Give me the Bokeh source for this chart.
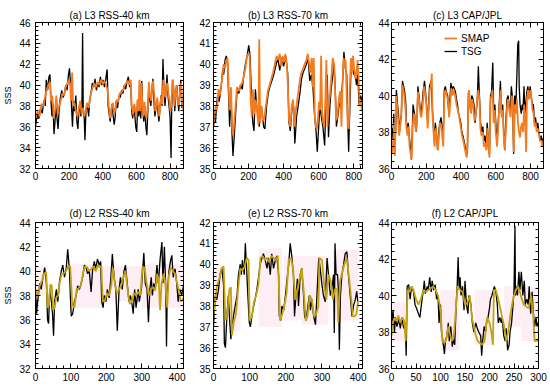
from bokeh.plotting import figure
from bokeh.models import Range1d, LinearAxis, SingleIntervalTicker, Legend, LegendItem
from bokeh.layouts import row, column
from bokeh.embed import file_html
from bokeh.resources import INLINE

FONT = "Liberation Sans"
ORANGE = "#f47b20"
OLIVE = "#c4a20e"
PINK = "#fdedf4"

# ---------------- (a) L3 RSS-40 km ----------------
a_tsg_x = [0,10,20,30,40,50,58,64,72,80,86,92,98,104,110,116,122,128,134,140,148,156,164,172,180,188,196,202,208,214,220,226,232,240,246,252,258,264,270,276,280,284,290,294,300,308,316,322,330,338,346,354,362,370,378,386,394,402,410,418,426,432,438,444,450,456,462,468,474,480,488,496,504,512,520,528,536,544,552,560,566,572,578,584,590,596,602,608,614,620,626,632,638,644,650,656,662,668,674,680,686,692,698,704,710,716,722,728,734,740,746,752,758,764,770,776,782,788,794,800,806,810,816,822,828,834,840,846,852,858,864,870,876,880]
a_tsg_y = [36.0,37.2,36.8,37.8,37.3,38.5,38.0,40.5,39.5,40.8,41.0,38.5,37.0,38.2,35.3,36.5,38.0,36.8,35.8,37.5,38.8,39.5,38.8,39.2,40.0,39.5,41.0,41.6,40.2,38.0,36.0,38.5,37.5,39.0,36.5,35.8,37.5,38.2,37.0,38.0,45.0,37.5,36.8,34.7,37.5,38.2,37.0,38.5,39.2,40.2,39.8,40.6,39.5,40.2,39.8,40.8,40.0,40.5,39.8,40.6,41.5,38.0,37.2,36.5,37.5,38.2,37.0,36.2,37.0,38.5,37.8,39.0,38.8,39.5,39.2,40.0,39.6,40.3,40.8,39.8,40.2,37.5,36.8,38.0,37.2,36.0,35.5,38.5,37.0,38.2,36.8,40.4,37.5,36.5,38.0,36.0,35.2,37.5,40.0,38.5,38.0,39.5,40.6,38.5,37.0,37.8,38.6,37.5,36.5,37.8,39.0,38.0,42.5,39.5,38.0,39.5,41.0,39.0,38.0,37.0,33.0,38.0,40.5,39.5,37.5,39.0,40.0,38.5,37.5,39.5,40.5,37.8,38.5,37.5]
a_smap_x = [0,12,24,36,48,58,66,76,86,92,100,108,116,124,132,140,150,160,170,180,190,200,206,212,218,224,232,240,250,258,266,274,282,290,298,306,316,324,332,340,350,360,370,380,390,400,410,420,428,436,444,452,460,468,476,484,492,500,510,520,530,540,550,558,566,572,580,588,594,600,606,612,618,624,630,636,642,648,654,660,668,674,680,688,694,700,706,712,718,724,730,736,742,748,754,760,766,772,778,784,790,796,802,808,814,820,826,832,838,844,852,860,866,872,880]
a_smap_y = [36.8,37.5,37.0,38.2,38.0,39.0,39.5,40.0,40.3,38.5,39.0,36.8,37.5,39.0,37.2,38.0,38.5,39.2,39.0,39.8,40.2,40.5,40.0,38.5,41.2,38.0,38.3,37.5,37.0,37.8,38.5,37.2,37.8,37.0,37.5,38.3,37.8,38.8,39.3,39.8,40.2,39.8,40.3,40.0,40.5,40.1,40.4,40.0,39.5,38.0,36.8,37.8,38.3,37.2,37.8,38.6,38.4,39.2,39.3,39.5,40.0,40.2,40.4,40.0,40.5,38.0,37.2,38.2,37.5,37.0,38.6,37.5,40.5,37.5,40.2,38.0,37.0,38.4,37.2,36.8,38.0,40.3,39.0,38.5,40.0,40.4,39.0,37.5,38.2,38.8,37.8,37.0,38.0,39.0,38.2,40.5,39.3,38.8,39.8,40.2,39.2,38.5,37.5,38.2,40.5,40.0,38.0,39.2,40.0,38.6,38.0,39.5,40.2,38.0,37.8]

# ---------------- (b) L3 RSS-70 km ----------------
b_tsg_x = [0,6,11,17,24,32,39,47,53,58,66,73,81,86,92,100,105,111,118,126,135,145,154,164,173,182,192,201,209,216,224,231,239,246,254,261,269,276,286,293,303,312,321,333,344,355,367,378,389,400,412,423,431,438,447,457,464,474,483,493,502,511,521,530,540,549,558,568,577,585,592,600,607,615,624,634,641,649,656,664,671,681,688,696,701,709,716,724,731,739,744,752,760,765,771,778,786,793,801,808,816,823,831,838,846,850]
b_tsg_y = [37.0,37.8,37.2,38.0,38.5,38.2,38.6,39.2,39.8,39.5,40.2,40.4,40.0,38.5,37.0,38.5,36.8,35.6,36.5,37.6,38.8,38.6,39.0,38.8,39.5,40.0,40.4,40.9,40.4,38.5,37.2,36.8,38.8,38.0,37.5,37.0,38.0,37.8,37.0,36.9,38.0,38.6,38.9,39.2,39.5,39.9,40.3,39.7,40.3,39.9,40.4,39.6,37.2,36.8,37.8,38.0,36.2,37.5,38.0,38.6,39.3,39.6,39.8,40.0,40.3,39.2,39.5,38.8,37.5,36.8,35.8,37.0,38.0,37.5,37.0,36.1,38.0,39.5,36.5,38.0,38.8,39.5,40.0,38.5,37.0,37.5,38.0,38.2,38.5,39.5,40.6,39.8,39.5,37.5,35.8,38.0,40.2,39.8,39.5,39.5,39.0,39.5,38.0,38.5,38.2,38.5]
b_smap_x = [0,6,12,20,28,36,44,52,58,66,74,80,86,92,100,106,112,118,126,134,144,154,164,172,182,190,198,206,212,218,224,232,240,248,256,261,266,274,282,290,300,310,320,330,340,350,360,370,378,386,394,402,410,418,424,430,438,446,454,462,470,478,486,494,502,512,520,530,538,546,552,560,566,572,578,584,590,596,602,608,614,620,626,632,638,644,650,656,664,672,680,688,694,700,706,712,718,724,730,736,742,748,754,760,766,772,778,784,790,796,802,810,816,822,828,834,840,846,850]
b_smap_y = [37.0,37.5,38.0,37.8,38.8,38.5,39.0,39.5,40.0,39.8,40.2,40.3,39.0,37.8,38.9,37.0,36.6,37.2,38.0,38.9,38.7,39.0,39.1,39.4,39.8,40.3,40.5,40.5,38.3,37.5,38.8,37.6,38.3,37.8,37.1,41.2,37.2,38.0,37.3,37.4,38.1,38.7,39.0,39.3,39.6,40.0,40.4,40.2,40.5,39.9,40.4,40.1,40.5,40.0,39.0,37.4,37.0,38.0,38.3,37.0,37.8,38.3,38.8,39.3,39.6,39.8,40.0,40.2,40.5,40.0,39.6,40.3,38.9,40.3,37.5,37.0,36.9,37.4,38.2,37.8,40.4,37.6,37.2,37.0,38.3,40.2,37.0,38.0,38.5,39.3,40.3,40.0,38.6,37.3,37.5,38.0,38.5,38.7,37.0,39.0,40.3,39.8,40.2,38.5,37.0,36.9,39.0,40.3,39.6,40.4,39.8,39.3,39.6,40.2,39.3,38.0,38.3,37.8,38.0]

# ---------------- (c) L3 CAP/JPL ----------------
c_tsg_x = [0,4,8,13,19,24,28,34,40,46,52,57,63,70,76,82,86,91,96,105,110,114,118,124,129,133,138,143,148,152,158,164,171,176,182,190,196,202,209,214,219,228,234,240,247,252,258,266,272,278,285,292,297,304,310,316,323,330,336,342,348,355,361,368,374,380,386,392,399,405,411,418,424,430,437,443,450,456,462,469,475,481,488,494,500,506,513,519,526,532,538,545,551,557,564,570,576,583,589,595,602,608,614,620,627,633,640,646,652,658,665,671,677,684,690,697,703,709,716,722,727,732,735,740,747,752,757,763,768,774,779,785,791,798,804,810,817,823,829,836,842,848,855,861,867,874]
c_tsg_y = [37.8,38.2,37.6,39.0,37.5,38.0,40.3,39.6,39.0,38.0,38.6,39.0,40.8,40.5,40.2,39.6,38.5,38.0,38.5,37.5,37.0,36.5,37.5,39.5,39.2,39.0,38.3,38.0,39.0,40.5,40.0,39.4,39.0,39.5,40.2,40.8,40.2,39.5,38.5,39.5,40.5,40.8,39.5,38.5,37.5,38.5,38.0,37.0,38.0,38.5,38.8,38.2,37.5,40.3,40.5,40.2,40.0,39.0,39.8,40.7,40.3,40.5,40.4,40.2,39.8,39.5,39.0,38.8,38.5,38.0,37.8,37.5,37.2,37.0,36.8,40.2,39.5,39.2,40.0,39.8,39.5,38.5,39.2,39.8,41.6,40.0,38.5,38.0,38.3,37.5,37.8,37.2,38.5,37.5,36.8,40.0,40.2,41.8,38.8,39.5,38.2,37.5,38.5,39.5,40.8,39.0,39.5,38.0,37.0,38.5,39.8,40.0,39.5,39.2,40.5,39.8,36.8,40.0,39.5,41.2,42.8,43.0,40.5,39.5,39.0,39.5,39.2,40.5,39.0,39.6,40.2,40.5,39.8,40.5,40.0,39.5,39.5,38.5,38.8,38.2,38.5,38.0,37.5,37.8,37.6,37.3]
c_smap_x = [0,5,10,15,20,26,32,38,44,50,56,62,68,74,80,86,92,98,104,110,116,122,128,134,140,146,152,158,166,172,180,188,196,202,208,214,220,226,232,236,242,248,254,260,266,272,278,286,292,298,304,310,318,326,332,338,344,350,358,366,374,382,390,398,406,414,420,428,434,440,446,452,458,464,470,478,486,492,500,506,512,518,526,532,540,546,552,558,564,570,576,582,588,594,600,608,614,620,628,634,640,646,652,658,666,672,678,686,692,698,704,710,716,722,728,734,740,746,752,758,764,770,775,780,786,792,800,806,812,818,824,830,836,842,850,856,862,868,874]
c_smap_y = [37.5,36.8,37.2,38.5,36.7,40.0,39.5,38.7,37.8,38.3,38.8,40.6,40.3,40.0,39.3,38.2,37.8,38.3,37.2,36.8,36.5,38.3,39.0,38.8,38.0,38.6,40.2,39.8,39.0,38.8,39.5,40.5,40.0,39.3,38.2,39.2,40.3,40.5,41.2,39.0,38.0,37.2,38.2,37.8,37.0,37.6,38.5,38.4,37.8,37.2,40.0,40.3,40.0,39.7,38.8,39.6,40.4,40.0,40.3,40.0,39.5,39.2,38.8,38.3,37.8,37.5,37.2,36.8,36.6,38.5,40.3,39.6,39.0,39.8,39.5,38.6,39.0,39.6,40.3,39.8,38.2,37.8,38.0,37.2,37.4,37.0,38.2,37.2,36.6,39.8,40.0,40.3,38.5,39.2,38.0,37.2,38.2,39.3,40.3,38.8,39.2,37.8,37.0,38.0,39.5,39.8,39.2,38.8,40.0,39.5,36.9,39.5,39.0,39.8,38.5,38.0,37.7,38.3,38.5,38.0,39.5,38.5,36.9,39.8,40.3,39.8,40.3,39.8,39.2,39.0,38.3,38.5,38.0,38.2,37.8,37.5,37.6,37.2,37.5]

# ---------------- (d) L2 RSS-40 km ----------------
d_tsg_x = [0,3,6,8,12,16,21,26,31,34,37,40,45,48,51,54,59,63,68,73,77,82,87,91,96,99,101,105,110,115,119,124,129,133,138,143,147,152,157,161,166,170,175,180,184,187,191,194,199,203,208,213,217,222,227,231,236,240,245,250,254,259,264,268,273,276,280,284,290,293,299,303,306,310,315,319,323,327,330,334,338,343,347,352,357,360,364,368,370,372,377,381,385,389,394,399,403,408,413,418]
d_tsg_y = [38.5,36.5,37.5,38.0,39.0,38.5,39.5,40.3,39.0,36.0,35.7,38.5,37.5,36.5,34.7,37.5,38.5,37.5,39.2,40.0,40.5,39.5,40.3,41.8,40.0,37.5,36.3,36.5,37.5,38.0,38.8,38.5,39.0,39.5,40.5,40.3,39.8,40.0,38.3,40.0,40.8,40.2,41.0,40.5,40.8,37.5,37.0,38.0,37.5,38.5,37.8,39.5,41.4,39.5,38.5,35.1,38.5,39.5,38.5,40.0,40.5,39.0,37.5,38.0,37.2,36.5,38.5,37.0,38.5,37.5,38.5,40.2,41.5,39.0,38.5,35.8,38.5,39.5,38.0,39.0,38.5,40.5,39.0,41.0,42.4,39.0,42.0,38.5,33.8,38.0,40.0,40.8,41.3,39.5,40.2,39.0,37.5,38.5,38.0,38.8]
d_smap_x = [0,6,12,18,24,30,34,38,42,46,50,54,58,64,68,74,80,86,92,98,104,110,116,122,128,134,140,146,152,158,164,170,176,182,186,190,196,202,208,214,218,224,230,236,242,248,254,260,266,272,278,284,290,296,302,308,314,320,326,332,338,344,348,352,356,362,366,372,376,382,388,394,400,406,410,414,418]
d_smap_y = [38.5,38.0,38.8,39.2,39.8,39.9,37.0,37.2,38.9,38.8,36.8,37.0,37.8,38.0,39.0,39.8,39.8,40.0,40.4,40.4,37.2,37.0,38.5,38.6,38.8,39.8,40.4,40.3,40.0,40.2,40.4,40.0,40.5,40.3,40.4,37.5,37.6,38.2,38.0,38.8,40.3,39.0,38.2,38.5,38.8,39.5,40.0,38.5,37.3,37.5,38.2,38.0,38.3,38.0,40.3,40.3,39.0,38.0,38.5,38.7,38.4,39.8,39.2,36.8,39.0,39.8,39.2,37.0,39.5,40.3,40.0,39.8,39.0,38.3,37.5,37.6,37.8]
d_pink_left = [0, 100, 190, 300]
d_pink_right = [35, 190, 300, 418]
d_pink_bottom = [38.0, 37.0, 37.5, 37.0]
d_pink_top = [40.4, 40.6, 40.4, 40.6]

# ---------------- (e) L2 RSS-70 km ----------------
e_tsg_x = [0,5,9,14,18,23,28,30,33,37,41,44,48,51,55,60,65,69,74,77,80,85,88,91,95,99,102,106,111,115,120,124,129,134,138,143,148,152,157,161,166,171,175,180,182,186,189,194,199,203,208,212,217,221,224,228,232,235,240,244,249,252,256,261,265,268,272,277,282,286,291,295,300,304,309,314,318,323,327,332,334,336,339,343,346,348,351,355,360,364,369,373,378,383,387,392,396,399]
e_tsg_y = [37.0,38.5,38.3,38.8,39.5,39.8,39.0,36.2,36.0,37.5,38.5,37.5,36.4,37.0,37.5,38.0,38.5,39.5,40.0,39.5,40.2,39.5,41.0,40.0,38.5,37.2,37.0,37.5,38.0,38.3,38.8,39.3,40.0,40.3,40.5,40.2,39.8,40.3,39.5,40.5,39.8,40.2,40.4,39.5,37.5,37.3,38.0,37.8,38.5,39.2,40.0,41.0,40.3,39.5,37.5,38.5,39.3,38.0,39.5,39.8,38.5,37.5,37.3,38.0,38.5,37.8,38.3,37.5,37.1,38.5,40.3,39.8,39.0,38.5,38.2,40.3,39.5,38.5,38.8,39.5,36.7,41.0,39.5,39.5,38.5,35.9,38.5,39.5,40.0,40.5,40.6,39.5,38.5,37.5,38.0,38.3,38.7,38.2]
e_smap_x = [0,5,10,16,22,28,33,38,44,48,51,56,62,68,74,80,86,92,97,100,106,112,118,124,130,136,142,148,154,160,166,172,178,184,190,196,202,208,214,220,226,232,238,244,250,255,260,266,272,278,284,290,293,300,306,312,318,324,330,336,342,345,350,356,362,368,374,380,385,390,395,400]
e_smap_y = [37.5,38.3,39.0,39.3,39.8,39.9,37.3,37.6,38.8,38.9,36.6,37.2,37.6,38.8,39.8,39.7,39.9,40.3,40.2,37.3,37.5,38.2,38.5,39.0,40.3,40.4,40.2,40.3,40.1,40.4,40.3,40.2,40.4,37.3,37.6,38.0,38.6,40.2,40.3,39.8,38.3,38.8,39.3,39.8,38.6,37.3,37.5,38.5,38.3,37.5,37.6,38.0,40.3,40.2,39.0,38.3,39.5,39.2,38.3,38.8,38.8,37.2,39.2,39.6,40.0,40.3,39.5,38.5,37.5,37.5,37.6,38.2]
e_pink_left = [0, 45, 125, 195, 245, 330]
e_pink_right = [30, 75, 190, 245, 318, 400]
e_pink_bottom = [38.0, 36.8, 37.0, 37.3, 37.1, 37.3]
e_pink_top = [39.8, 38.5, 40.75, 40.4, 40.4, 40.7]

# ---------------- (f) L2 CAP/JPL ----------------
f_tsg_x = [1,3,6,8,11,15,18,21,25,28,30,32,35,38,41,45,48,51,55,58,61,65,67,69,73,75,78,81,83,86,89,92,95,97,100,102,105,108,110,113,116,118,121,124,126,129,132,134,136,138,140,142,145,148,150,153,156,158,162,165,168,172,175,178,182,184,186,189,192,194,197,200,202,205,208,210,213,216,218,221,224,226,229,232,234,237,240,242,245,248,250,252,253,255,257,260,262,265,268,271,273,276,279,281,284,287,289,292,295,297,299]
f_tsg_y = [38.5,39.2,38.0,38.8,38.3,38.7,38.2,38.8,38.2,38.5,36.7,40.5,40.6,39.8,40.5,40.2,39.5,39.3,39.0,38.8,39.5,40.3,40.8,40.1,40.5,40.3,41.0,40.2,40.8,40.3,40.6,39.8,40.0,38.5,39.5,38.0,37.5,36.8,37.5,37.8,38.5,37.5,38.3,37.2,37.6,37.3,39.5,40.5,42.1,40.3,41.0,40.0,40.5,39.2,40.8,39.5,39.0,40.0,39.5,38.5,38.0,38.5,38.2,38.0,37.8,36.7,37.5,38.3,38.0,38.5,38.8,39.3,39.8,40.0,40.3,40.5,40.2,39.5,38.5,38.8,38.5,38.8,37.8,37.5,38.2,37.0,37.3,38.0,38.5,39.5,40.3,43.8,40.0,40.5,40.0,41.3,40.3,41.3,40.0,40.8,39.5,39.8,39.5,40.5,39.0,40.2,39.2,38.3,38.8,38.3,38.5]
f_smap_x = [0,3,6,10,14,18,22,26,29,33,37,41,45,50,55,60,65,70,75,80,85,90,95,100,104,108,112,116,120,124,128,132,135,140,145,150,155,160,164,168,172,176,180,185,190,195,200,204,207,209,213,218,222,226,230,234,238,242,246,250,254,258,262,266,270,275,280,285,289,292,296,300]
f_smap_y = [37.8,38.5,38.8,38.6,38.9,38.5,38.8,38.6,37.5,40.3,40.2,40.5,40.3,39.8,39.5,39.8,40.3,40.2,40.3,40.4,40.5,40.3,40.0,39.2,37.5,37.4,37.6,38.3,37.8,37.5,38.0,39.5,40.5,40.3,40.2,39.5,39.6,40.0,38.8,38.3,37.8,37.5,37.4,37.3,37.5,38.8,38.5,38.0,37.3,40.3,40.3,39.8,39.3,38.8,38.3,37.5,38.0,38.8,39.5,40.0,40.3,40.5,40.2,39.8,39.5,39.4,39.3,40.0,39.0,37.5,37.5,37.6]
f_pink_left = [0, 100, 170, 230, 265]
f_pink_right = [32, 138, 205, 265, 300]
f_pink_bottom = [37.5, 37.0, 37.3, 38.3, 37.5]
f_pink_top = [39.6, 40.3, 40.3, 40.5, 40.5]


def make_panel(title, xr, yr, xint, yint, width, height, bl, br, bt, bb,
               ylabel=None, title_standoff=4, ystand=3, xstand=3):
    p = figure(width=width, height=height, output_backend="svg", toolbar_location=None,
               x_range=Range1d(*xr), y_range=Range1d(*yr),
               x_axis_location=None, y_axis_location=None,
               min_border_left=bl, min_border_right=br,
               min_border_top=bt, min_border_bottom=bb)
    p.grid.visible = False
    p.outline_line_color = "black"
    p.outline_line_width = 1
    p.background_fill_color = "white"
    p.border_fill_color = "white"
    p.title.text = title
    p.title.align = "center"
    p.title.text_font = FONT
    p.title.text_font_size = "10px"
    p.title.text_font_style = "normal"
    p.title.text_color = "black"
    p.title.standoff = title_standoff
    xt = SingleIntervalTicker(interval=xint, num_minor_ticks=5)
    yt = SingleIntervalTicker(interval=yint, num_minor_ticks=5)
    for loc, ticker, show in [("below", xt, True), ("above", xt, False),
                              ("left", yt, True), ("right", yt, False)]:
        ax = LinearAxis(ticker=ticker)
        ax.major_tick_in = 5
        ax.major_tick_out = 0
        ax.minor_tick_in = 3
        ax.minor_tick_out = 0
        ax.axis_line_color = "black"
        ax.major_tick_line_color = "black"
        ax.minor_tick_line_color = "black"
        if show:
            ax.major_label_text_font = FONT
            ax.major_label_text_font_size = "10px"
            ax.major_label_text_color = "black"
            ax.major_label_standoff = xstand if loc == "below" else ystand
        else:
            ax.major_label_text_font_size = "1px"
            ax.major_label_text_color = None
            ax.major_label_standoff = 0
        if loc == "left" and ylabel:
            ax.axis_label = ylabel
            ax.axis_label_text_font = FONT
            ax.axis_label_text_font_size = "9px"
            ax.axis_label_text_font_style = "normal"
            ax.axis_label_text_color = "black"
            ax.axis_label_standoff = 3
        p.add_layout(ax, loc)
    return p


H1, H2 = 190, 198
W1, W2, W3 = 196, 179, 175

pa = make_panel("(a) L3 RSS-40 km", (0, 880), (32, 46), 200, 2, W1, H1, 32, 13, 22, 22,
                ylabel="SSS", ystand=5)
pa.line(a_tsg_x, a_tsg_y, color="black", line_width=1.3)
pa.line(a_smap_x, a_smap_y, color=ORANGE, line_width=1.8)

pb = make_panel("(b) L3 RSS-70 km", (0, 850), (35, 42), 200, 1, W2, H1, 16, 13, 22, 22)
pb.line(b_tsg_x, b_tsg_y, color="black", line_width=1.3)
pb.line(b_smap_x, b_smap_y, color=ORANGE, line_width=1.8)

pc = make_panel("(c) L3 CAP/JPL", (0, 875), (36, 44), 200, 2, W3, H1, 13, 7, 22, 22, ystand=2)
rc_t = pc.line(c_tsg_x, c_tsg_y, color="black", line_width=1.3)
rc_s = pc.line(c_smap_x, c_smap_y, color=ORANGE, line_width=1.8)
leg = Legend(items=[LegendItem(label="SMAP", renderers=[rc_s]),
                    LegendItem(label="TSG", renderers=[rc_t])],
             location=(53, 111), padding=0, margin=0, spacing=1,
             glyph_width=13, glyph_height=12, label_height=12, label_standoff=4,
             label_text_font=FONT, label_text_font_size="10px", label_text_color="black",
             border_line_color=None, background_fill_alpha=0)
pc.add_layout(leg)

pd = make_panel("(d) L2 RSS-40 km", (0, 418), (32, 44), 100, 2, W1, H2, 32, 13, 32, 20,
                ylabel="SSS", title_standoff=7, ystand=5, xstand=4)
pd.quad(left=d_pink_left, right=d_pink_right, bottom=d_pink_bottom, top=d_pink_top,
        fill_color=PINK, line_color=None)
pd.line(d_tsg_x, d_tsg_y, color="black", line_width=1.3)
pd.line(d_smap_x, d_smap_y, color=OLIVE, line_width=1.8)

pe = make_panel("(e) L2 RSS-70 km", (0, 412), (35, 42), 100, 1, W2, H2, 16, 13, 32, 20,
                title_standoff=7, xstand=4)
pe.quad(left=e_pink_left, right=e_pink_right, bottom=e_pink_bottom, top=e_pink_top,
        fill_color=PINK, line_color=None)
pe.line(e_tsg_x, e_tsg_y, color="black", line_width=1.3)
pe.line(e_smap_x, e_smap_y, color=OLIVE, line_width=1.8)

pf = make_panel("(f) L2 CAP/JPL", (0, 300), (36, 44), 50, 2, W3, H2, 13, 12, 32, 20,
                title_standoff=7, ystand=2, xstand=4)
pf.quad(left=f_pink_left, right=f_pink_right, bottom=f_pink_bottom, top=f_pink_top,
        fill_color=PINK, line_color=None)
pf.line(f_tsg_x, f_tsg_y, color="black", line_width=1.3)
pf.line(f_smap_x, f_smap_y, color=OLIVE, line_width=1.8)

layout = column(row(pa, pb, pc), row(pd, pe, pf))

with open("out.html", "w") as fh:
    fh.write(file_html(layout, INLINE))
